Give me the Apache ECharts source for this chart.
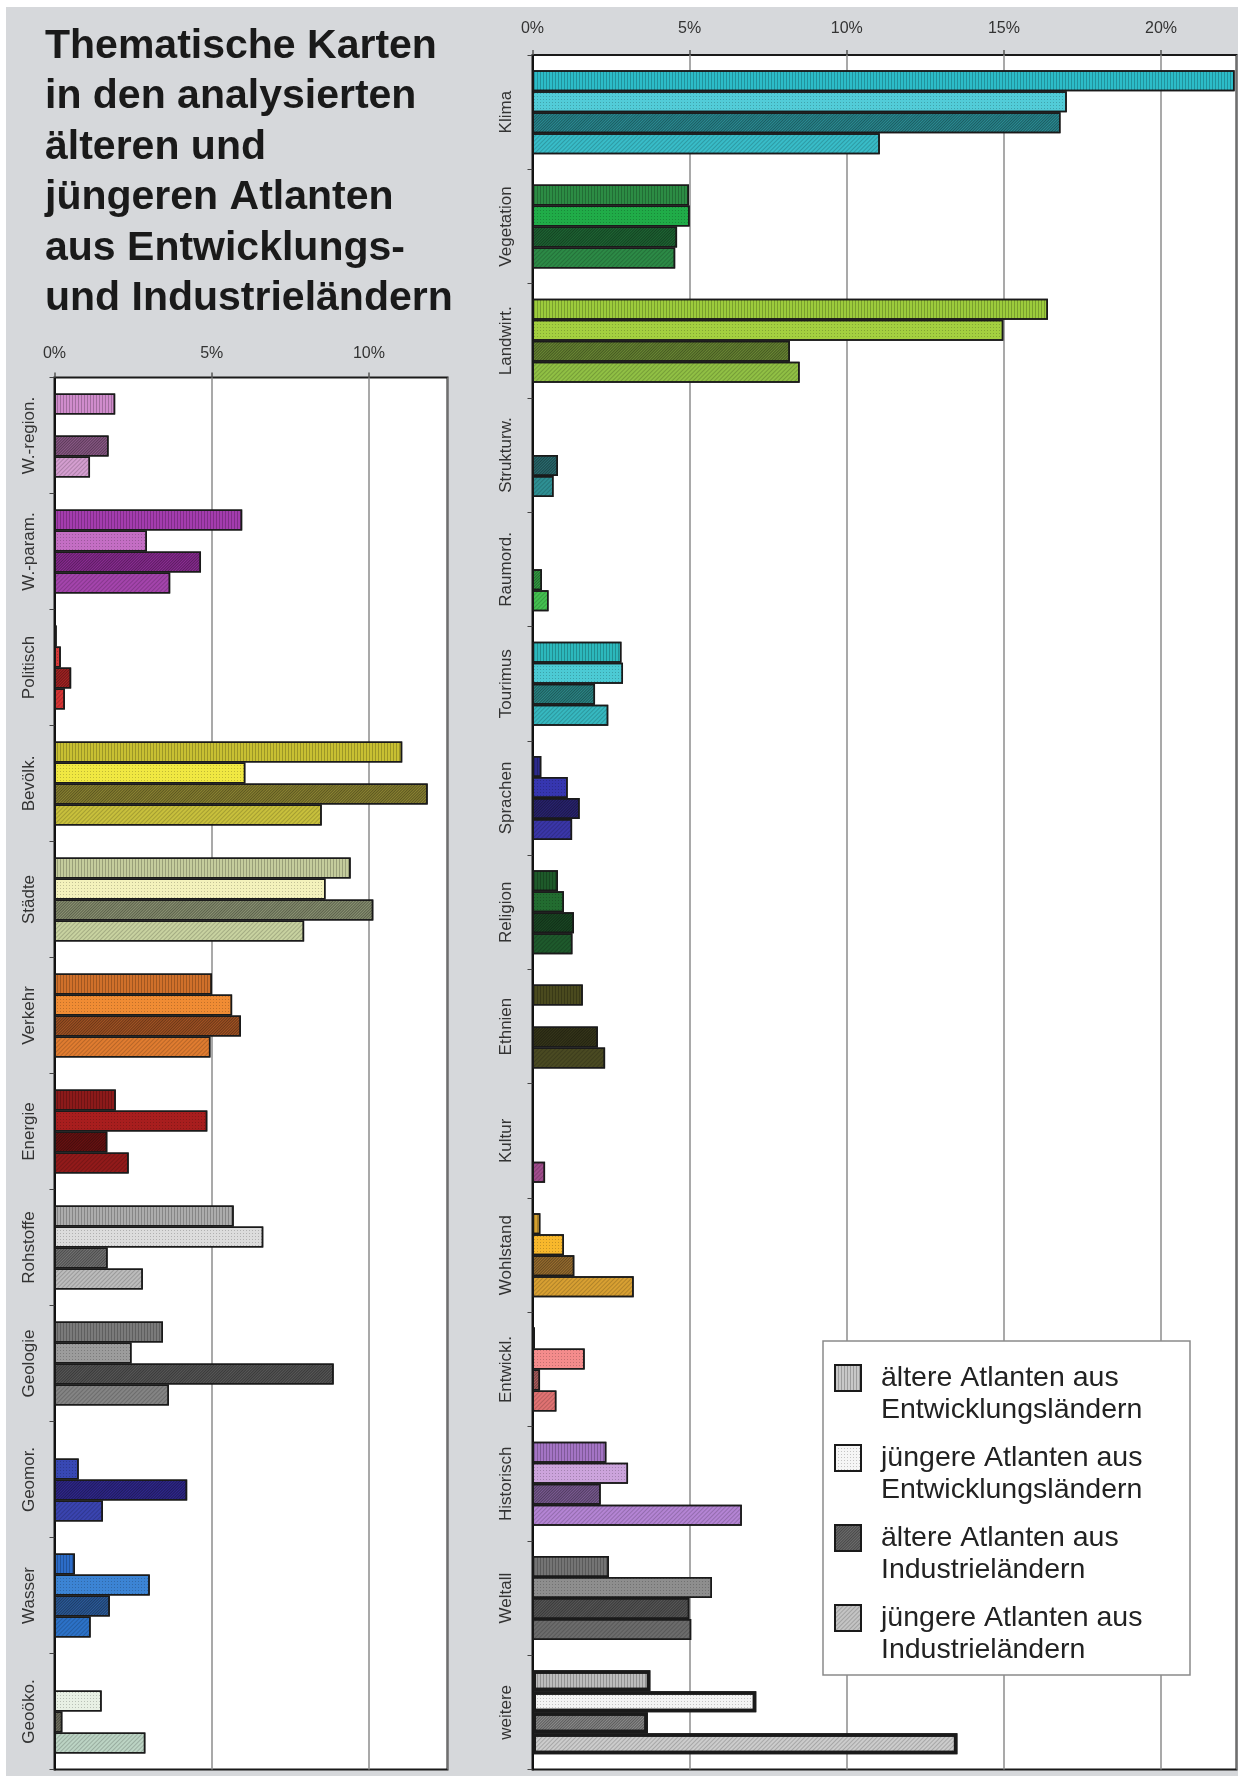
<!DOCTYPE html>
<html>
<head>
<meta charset="utf-8">
<script src="https://cdn.jsdelivr.net/npm/echarts@6/dist/echarts.min.js"></script>
<style>
html,body{margin:0;padding:0;background:#fff;}
#bg{position:absolute;left:6px;top:7px;width:1232px;height:1769px;background:#d6d8db;}
#chart{position:absolute;left:0;top:0;width:1238px;height:1776px;}
</style>
</head>
<body>
<div id="bg"></div>
<div id="chart"></div>
<script>
// ---------- DATA ----------
const titleText = 'Thematische Karten\nin den analysierten\nälteren und\njüngeren Atlanten\naus Entwicklungs-\nund Industrieländern';

const seriesNames = [
  'ältere Atlanten aus Entwicklungsländern',
  'jüngere Atlanten aus Entwicklungsländern',
  'ältere Atlanten aus Industrieländern',
  'jüngere Atlanten aus Industrieländern'
];

const leftCategories = ['W.-region.', 'W.-param.', 'Politisch', 'Bevölk.', 'Städte', 'Verkehr', 'Energie', 'Rohstoffe', 'Geologie', 'Geomor.', 'Wasser', 'Geoöko.'];
const leftOldDev   = [1.93, 5.97, 0.07, 11.06, 9.42, 5.01, 1.95, 5.70, 3.45, 0,    0.65, 0];
const leftYoungDev = [0,    2.94, 0.20, 6.07,  8.62, 5.65, 4.86, 6.64, 2.45, 0.77, 3.03, 1.50];
const leftOldInd   = [1.72, 4.66, 0.53, 11.87, 10.14, 5.93, 1.68, 1.69, 8.88, 4.22, 1.76, 0.25];
const leftYoungInd = [1.13, 3.68, 0.33, 8.50,  7.94, 4.96, 2.36, 2.81, 3.64, 1.54, 1.15, 2.89];

const rightCategories = ['Klima', 'Vegetation', 'Landwirt.', 'Strukturw.', 'Raumord.', 'Tourimus', 'Sprachen', 'Religion', 'Ethnien', 'Kultur', 'Wohlstand', 'Entwickl.', 'Historisch', 'Weltall', 'weitere'];
const rightOldDev   = [22.34, 4.98, 16.40, 0,    0,    2.83, 0.28, 0.81, 1.60, 0,    0.25, 0.08, 2.35, 2.43, 3.75];
const rightYoungDev = [17.00, 5.00, 14.98, 0,    0,    2.88, 1.12, 1.00, 0,    0,    1.00, 1.66, 3.04, 5.71, 7.12];
const rightOldInd   = [16.80, 4.60, 8.19,  0.81, 0.30, 1.99, 1.50, 1.32, 2.08, 0,    1.33, 0.24, 2.17, 4.99, 3.67];
const rightYoungInd = [11.05, 4.54, 8.50,  0.67, 0.51, 2.41, 1.26, 1.27, 2.31, 0.40, 3.22, 0.76, 6.66, 5.05, 13.52];

// ---------- STYLES ----------
const FONT = '"Liberation Sans", Arial, Helvetica, sans-serif';
const leftColors = [
  ['#d08ccc', '#e0b0dc', '#8c5a88', '#d49ed0'],
  ['#a43cae', '#c46ec4', '#8c2c94', '#a444ac'],
  ['#3a0a0a', '#d83a3a', '#a82424', '#d63434'],
  ['#c8c032', '#f0e842', '#8c8432', '#c8c03c'],
  ['#c4cc9c', '#f4f2bc', '#8c9474', '#c8d2a0'],
  ['#d0702a', '#f08c34', '#a45424', '#e07c30'],
  ['#8c1a1a', '#a81e1e', '#6a1212', '#921a1a'],
  ['#acacac', '#dcdcdc', '#747474', '#bcbcbc'],
  ['#7a7a7a', '#9c9c9c', '#585858', '#848484'],
  ['#3848b4', '#3848b4', '#30288e', '#3a44b0'],
  ['#2c6cc8', '#3c84d4', '#2c5c9c', '#2c72c8'],
  ['#bcd4c4', '#e8f0e4', '#747464', '#bcd4c4']
];
const rightColors = [
  ['#2cbcc8', '#52ccd8', '#2a8c94', '#38bcc8'],
  ['#2c8c44', '#20ac48', '#1e6634', '#2c8a46'],
  ['#9ccc3c', '#a4d040', '#6a8834', '#90c044'],
  ['#2e9094', '#2e9094', '#2a6c70', '#2e9094'],
  ['#44c050', '#44c050', '#34a044', '#44c050'],
  ['#2cb8bc', '#4ccad4', '#2c8888', '#36b8c0'],
  ['#2c2a8c', '#3636b0', '#2a2472', '#3a36a8'],
  ['#1e5a2a', '#226c30', '#1a4824', '#1e5a2c'],
  ['#4a4a1e', '#4a4a1e', '#36361a', '#4a4a22'],
  ['#a04c8c', '#a04c8c', '#a04c8c', '#a04c8c'],
  ['#d4a030', '#f8b82c', '#9c7030', '#d8a032'],
  ['#5a1a1a', '#f48c8c', '#b06060', '#e07272'],
  ['#a474c4', '#cca4dc', '#7c5c94', '#b484d4'],
  ['#747474', '#8e8e8e', '#585858', '#6c6c6c'],
  ['#bcbcbc', '#f4f4f4', '#8c8c8c', '#cccccc']
];
const legendColors = ['#c8c8c8', '#f6f6f6', '#6e6e6e', '#c4c4c4'];
const decals = [
  {symbol: 'rect', symbolSize: 1, symbolKeepAspect: false, dashArrayX: [1, 2], dashArrayY: [4, 0], color: 'rgba(0,0,0,0.22)'},
  {symbol: 'rect', symbolSize: 1, symbolKeepAspect: false, dashArrayX: [1, 2], dashArrayY: [1, 2], color: 'rgba(0,0,0,0.2)'},
  {symbol: 'rect', symbolSize: 1, symbolKeepAspect: false, dashArrayX: [1, 1], dashArrayY: [4, 0], rotation: Math.PI / 4, color: 'rgba(0,0,0,0.35)'},
  {symbol: 'rect', symbolSize: 1, symbolKeepAspect: false, dashArrayX: [1, 2], dashArrayY: [4, 0], rotation: Math.PI / 4, color: 'rgba(0,0,0,0.18)'}
];

const leftValues = [leftOldDev, leftYoungDev, leftOldInd, leftYoungInd];
const rightValues = [rightOldDev, rightYoungDev, rightOldInd, rightYoungInd];

function buildData(values, colors, s, cats) {
  return values.map(function (v, i) {
    if (v === 0) return '-';
    return {
      value: v,
      itemStyle: {
        color: colors[i][s],
        borderWidth: cats[i] === 'weitere' ? 3.5 : 1.5
      }
    };
  });
}

const series = [];
for (let s = 0; s < 4; s++) {
  series.push({
    type: 'bar', name: seriesNames[s], xAxisIndex: 0, yAxisIndex: 0,
    barWidth: 21, barGap: '0%',
    itemStyle: {color: legendColors[s], borderColor: '#1a1a1a', borderWidth: 1.5, decal: decals[s]},
    data: buildData(leftValues[s], leftColors, s, leftCategories),
    silent: true
  });
}
for (let s = 0; s < 4; s++) {
  series.push({
    type: 'bar', name: seriesNames[s], xAxisIndex: 1, yAxisIndex: 1,
    barWidth: 21, barGap: '0%',
    itemStyle: {color: legendColors[s], borderColor: '#1a1a1a', borderWidth: 1.5, decal: decals[s]},
    data: buildData(rightValues[s], rightColors, s, rightCategories),
    silent: true
  });
}

function xAxis(gridIndex, max, margin) {
  return {
    type: 'value', gridIndex: gridIndex, position: 'top', min: 0, max: max, interval: 5,
    axisLine: {show: false},
    axisTick: {show: true, length: 5, lineStyle: {color: '#555', width: 1.5}},
    axisLabel: {
      formatter: function (v) { return v % 5 === 0 ? v + '%' : ''; },
      fontSize: 16, color: '#333', margin: margin, fontFamily: FONT, showMaxLabel: false
    },
    splitLine: {show: true, lineStyle: {color: '#8c8c8c', width: 1.5}}
  };
}
function yAxis(gridIndex, cats, margin) {
  return {
    type: 'category', gridIndex: gridIndex, inverse: true, data: cats,
    axisLine: {show: true, lineStyle: {color: '#111', width: 2}},
    axisTick: {show: true, length: 5, lineStyle: {color: '#444'}},
    axisLabel: {rotate: 90, fontSize: 17, color: '#333', margin: margin, interval: 0, fontFamily: FONT},
    splitLine: {show: false}
  };
}

const option = {
  backgroundColor: 'transparent',
  animation: false,
  title: {
    text: titleText, left: 45, top: 21, padding: 0,
    textStyle: {fontSize: 41, fontWeight: 'bold', lineHeight: 50.5, color: '#1a1a1a', fontFamily: FONT}
  },
  grid: [
    {left: 54.5, top: 377.5, width: 393, height: 1392, show: true, backgroundColor: '#fff', borderColor: '#1a1a1a', borderWidth: 2},
    {left: 532.5, top: 55, width: 704, height: 1714.5, show: true, backgroundColor: '#fff', borderColor: '#1a1a1a', borderWidth: 2}
  ],
  xAxis: [xAxis(0, 12.5, 16), xAxis(1, 22.4, 18)],
  yAxis: [yAxis(0, leftCategories, 17), yAxis(1, rightCategories, 18)],
  legend: {
    orient: 'vertical', left: 834, top: 1330, padding: 0, itemGap: -16,
    itemWidth: 26, itemHeight: 26, icon: 'rect', z: 20,
    selectedMode: false,
    data: seriesNames,
    formatter: function (name) { return '\n' + name.replace(' aus ', ' aus\n'); },
    textStyle: {fontSize: 28.5, lineHeight: 32, color: '#222', fontFamily: FONT, padding: [0, 0, 0, 15]},
    itemStyle: {borderColor: '#1a1a1a', borderWidth: 2}
  },
  graphic: [
    {type: 'rect', z: 10, shape: {x: 823, y: 1341, width: 367, height: 334},
     style: {fill: '#fff', stroke: '#8a8a8a', lineWidth: 1.5}}
  ],
  series: series
};

const chart = echarts.init(document.getElementById('chart'), null, {renderer: 'canvas'});
chart.setOption(option);
</script>
</body>
</html>
